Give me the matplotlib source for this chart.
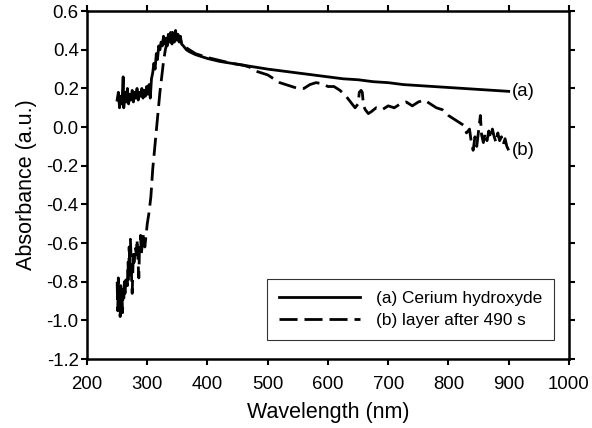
import matplotlib
matplotlib.use("Agg")
import matplotlib.pyplot as plt

plt.rcParams["font.family"] = ["Liberation Sans", "DejaVu Sans"]

# (a) cerium hydroxyde
wl_a = [250, 252, 254, 256, 258, 260, 261, 263, 265, 267, 269, 271, 273, 275,
        277, 279, 281, 283, 285, 287, 289, 291, 293, 295, 297, 299, 301, 303,
        305, 307, 309, 311, 313, 315, 317, 319, 321, 323, 325, 327, 329, 331,
        333, 335, 337, 339, 341, 343, 345, 347, 349, 351, 353, 355, 357, 360,
        365, 370, 380, 390, 400, 420, 440, 460, 480, 500, 525, 550, 575, 600,
        625, 650, 675, 700, 725, 750, 775, 800, 825, 850, 875, 900]
abs_a = [0.14, 0.18, 0.10, 0.16, 0.12, 0.26, 0.10, 0.18, 0.13, 0.20, 0.12, 0.17,
         0.14, 0.19, 0.13, 0.18, 0.15, 0.20, 0.14, 0.18, 0.16, 0.20, 0.15, 0.19,
         0.16, 0.21, 0.17, 0.22, 0.15, 0.25, 0.28, 0.33, 0.30, 0.38, 0.35, 0.42,
         0.40, 0.44, 0.42, 0.47, 0.43, 0.46, 0.42, 0.48, 0.44, 0.49, 0.43, 0.47,
         0.44, 0.50, 0.45, 0.48, 0.44, 0.47, 0.43, 0.42, 0.40, 0.39, 0.375, 0.365,
         0.355, 0.34, 0.33, 0.32, 0.31, 0.30, 0.29, 0.28, 0.27, 0.26, 0.25, 0.245,
         0.235, 0.23, 0.22, 0.215, 0.21, 0.205, 0.20, 0.195, 0.19, 0.185]

# (b) layer after 490 s
wl_b = [250, 251, 252, 253, 254, 255, 256, 257, 258, 259, 260, 261, 262, 263,
        265, 267, 268, 269, 270, 271, 272, 273, 274, 275, 276, 277, 278, 280,
        282, 283, 285, 286, 287, 289, 290, 292, 294, 296, 298, 300, 303, 306,
        309, 312, 315, 318, 321, 324, 327, 330, 333, 336, 339, 342, 345, 348,
        351, 354, 357, 360, 370, 380, 390, 400, 420, 440, 460, 470, 480, 490,
        500, 510, 520, 530, 540, 550, 560, 570, 580, 590, 600, 610, 620, 630,
        640, 645, 650, 652, 655, 657, 659, 662, 667, 672, 680, 690, 700, 710,
        720, 730, 740, 750, 760, 770, 780, 790, 800, 810, 820, 825, 830, 835,
        838, 841, 844, 847, 850, 853, 855, 858, 861, 864, 867, 870, 873, 876,
        879, 882, 885, 888, 891, 894, 897, 900]
abs_b = [-0.80, -0.95, -0.78, -0.92, -0.85, -0.98, -0.82, -0.93, -0.86, -0.96,
         -0.84, -0.90, -0.80, -0.86, -0.78, -0.82, -0.70, -0.80, -0.62, -0.72,
         -0.58, -0.66, -0.78, -0.86, -0.74, -0.64, -0.70, -0.62, -0.66, -0.58,
         -0.72, -0.78, -0.64, -0.56, -0.66, -0.60, -0.55, -0.62, -0.56, -0.50,
         -0.44, -0.36, -0.22, -0.12, -0.02, 0.08, 0.18, 0.26, 0.34, 0.40, 0.44,
         0.46, 0.44, 0.49, 0.45, 0.49, 0.45, 0.47, 0.43, 0.42, 0.40, 0.38, 0.37,
         0.36, 0.345, 0.33, 0.32, 0.31, 0.29, 0.28, 0.27, 0.25, 0.23, 0.22, 0.21,
         0.20, 0.20, 0.22, 0.23, 0.225, 0.21, 0.21, 0.19, 0.16, 0.12, 0.10, 0.12,
         0.18, 0.19, 0.18, 0.11, 0.09, 0.07, 0.08, 0.10, 0.09, 0.11, 0.10, 0.12,
         0.13, 0.11, 0.13, 0.14, 0.12, 0.10, 0.09, 0.06, 0.04, 0.02, 0.01, -0.03,
         -0.01, -0.08, -0.12, -0.05, -0.10, -0.02, 0.06, -0.04, -0.08, -0.03,
         -0.07, -0.02, -0.06, -0.01, -0.05, -0.08, -0.03, -0.07, -0.05, -0.09,
         -0.06, -0.10, -0.12]

x_ticks = [200, 300, 400, 500, 600, 700, 800, 900, 1000]
y_ticks = [-1.2, -1.0, -0.8, -0.6, -0.4, -0.2, 0.0, 0.2, 0.4, 0.6]

fig = plt.figure(figsize=(5.92, 4.28), dpi=100)
ax = fig.add_axes([0.147, 0.161, 0.814, 0.813])

ax.plot(wl_a, abs_a, color="black", lw=2.0, label="(a) Cerium hydroxyde")
ax.plot(wl_b, abs_b, color="black", lw=2.0, dashes=(6.5, 2.5),
        label="(b) layer after 490 s")

ax.text(905, abs_a[-1], "(a)", fontsize=13.4, va="center", ha="left")
ax.text(905, abs_b[-1], "(b)", fontsize=13.4, va="center", ha="left")

ax.set_xlim(200, 1000)
ax.set_ylim(-1.2, 0.6)
ax.set_xticks(x_ticks)
ax.set_yticks(y_ticks)
ax.set_yticklabels([f"{v:.1f}" for v in y_ticks])
ax.tick_params(direction="out", length=4, width=1.5, labelsize=13.4,
               top=True, right=True)
ax.tick_params(axis="x", pad=8)
ax.tick_params(axis="y", pad=2)
for s in ax.spines.values():
    s.set_linewidth(1.8)

ax.set_xlabel("Wavelength (nm)", fontsize=15.5, labelpad=7)
ax.set_ylabel("Absorbance (a.u.)", fontsize=15.5, labelpad=7)

leg = ax.legend(loc="lower right", bbox_to_anchor=(0.969, 0.055),
                borderaxespad=0, fontsize=12.4, handlelength=4.7,
                handletextpad=0.9, labelspacing=0.4, borderpad=0.7,
                frameon=True, fancybox=False, edgecolor="black")
leg.get_frame().set_linewidth(0.8)

fig.savefig("out.png", dpi=100)
